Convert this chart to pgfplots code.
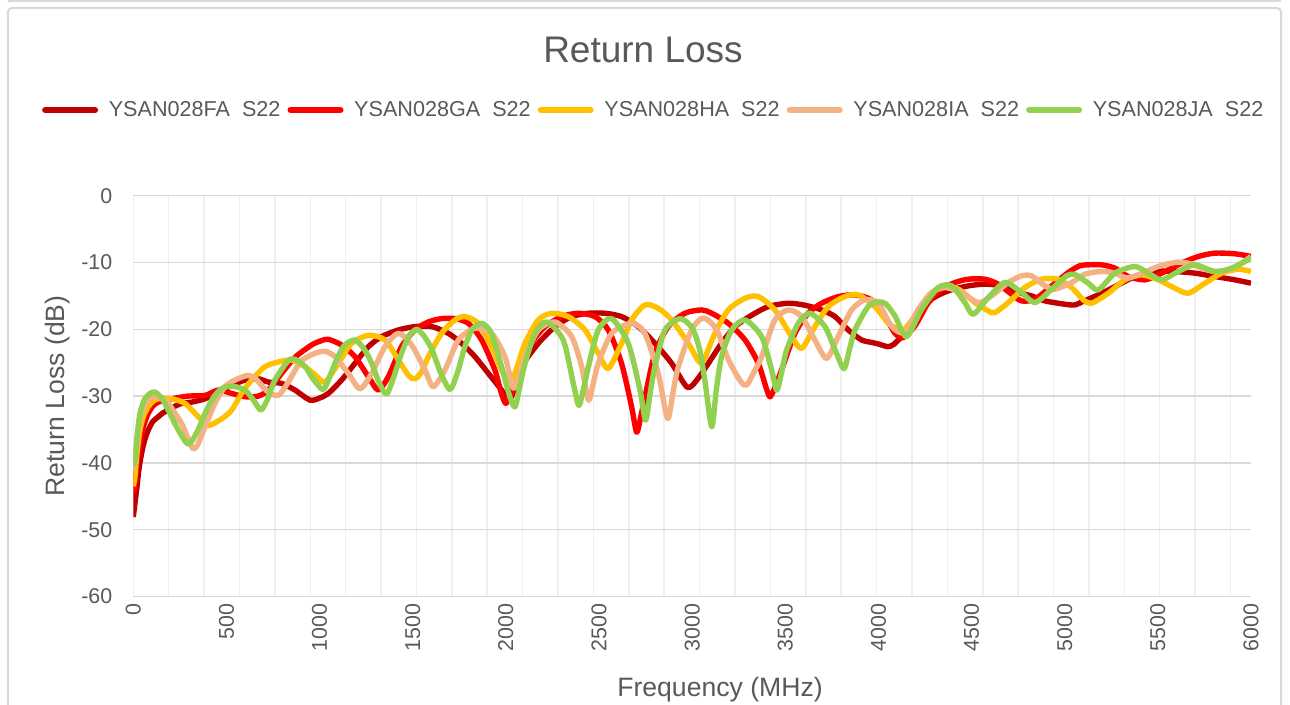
\documentclass[border=0pt]{standalone}
\usepackage{pgfplots}
\pgfplotsset{compat=1.18}
\usepackage{fontspec}
\setmainfont{Liberation Sans}

\definecolor{txt}{HTML}{595959}
\definecolor{gridmaj}{HTML}{D9D9D9}
\definecolor{gridmin}{HTML}{EFEFEF}
\definecolor{frame}{HTML}{D9D9D9}
\definecolor{cFA}{HTML}{C00000}
\definecolor{cGA}{HTML}{FF0000}
\definecolor{cHA}{HTML}{FFC000}
\definecolor{cIA}{HTML}{F4B183}
\definecolor{cJA}{HTML}{92D050}

\begin{document}
\begin{tikzpicture}
\path[use as bounding box] (-66.65pt,-54.25pt) rectangle (578.35pt,298.25pt);
% chart frame (cut at the bottom) and the edge of the chart above
\draw[frame, line width=1pt, rounded corners=2pt]
  (-62.65pt,-60pt) -- (-62.65pt,294.25pt) -- (573.85pt,294.25pt) -- (573.85pt,-60pt);
\draw[frame, line width=1pt] (-62.65pt,297.6pt) -- (573.85pt,297.6pt);

\begin{axis}[
  at={(0pt,0pt)}, anchor=south west,
  scale only axis, width=558.85pt, height=200.4pt,
  xmin=0, xmax=6000, ymin=-60, ymax=0,
  xtick={0,500,...,6000}, ytick={-60,-50,...,0},
  minor xtick={0,190,...,6000},
  ymajorgrids=true, xminorgrids=true,
  major grid style={draw=gridmaj, line width=0.75pt},
  minor grid style={draw=gridmin, line width=0.75pt},
  axis line style={draw=none},
  major tick length=0pt, minor tick length=0pt,
  tick label style={font=\fontsize{10.7}{12}\selectfont, text=txt},
  /pgf/number format/assume math mode=true,
  /pgf/number format/1000 sep={},
  xticklabel style={rotate=90, anchor=east},
  yticklabel style={xshift=-7pt},
  every axis plot/.append style={line width=2.7pt, line join=round, smooth, tension=0.45},
  legend columns=5,
  legend style={at={(0.4665,1.2138)}, anchor=center, draw=none, fill=none,
    font=\fontsize{10.8}{12}\selectfont, text=txt,
    /tikz/every even column/.append style={column sep=1.5pt}},
  legend image code/.code={\draw[line width=3pt, line cap=round] (1.5pt,0pt) -- (26.5pt,0pt);
    \path (30pt,0pt);},
]
% YSAN028FA S22
\addplot[cFA] coordinates {
(0,-48.1) (9,-46) (18,-44) (30,-41) (45,-38.5) (62,-36.5) (80,-35.1) (105,-33.8)
(134,-33.1) (160,-32.5) (188,-32.1) (225,-31.5) (259,-31.1) (313,-30.9) (385,-30.4)
(456,-29.4) (528,-28.4) (600,-27.6) (671,-27.4) (725,-27.9) (796,-28.1) (868,-29.1)
(948,-30.6) (1000,-30.3) (1047,-29.6) (1118,-27.6) (1190,-25.1) (1262,-22.6)
(1333,-21.1) (1423,-20.1) (1512,-19.6) (1602,-19.6) (1691,-20.6) (1763,-22.1)
(1834,-24.1) (1906,-26.6) (1977,-29.1) (2010,-30.5) (2035,-29.8) (2085,-25.6)
(2174,-22.1) (2264,-19.6) (2353,-18.1) (2443,-17.6) (2532,-17.6) (2621,-18.1)
(2711,-19.6) (2800,-22.1) (2890,-25.1) (2975,-28.7) (3033,-27.3) (3087,-25.1)
(3158,-22.1) (3230,-19.6) (3319,-17.9) (3409,-16.6) (3516,-16.1) (3606,-16.4)
(3695,-17.1) (3767,-18.1) (3838,-20.1) (3910,-21.6) (3970,-22) (4000,-22.2)
(4050,-22.6) (4080,-22.3) (4110,-21.5) (4142,-20.75) (4214,-18) (4285,-15.5)
(4375,-14.25) (4482,-13.5) (4572,-13.25) (4661,-13.5) (4750,-14.5) (4822,-15)
(4894,-15.75) (5001,-16.25) (5055,-16.35) (5100,-15.8) (5180,-14.85) (5270,-13.6)
(5377,-12.1) (5484,-11.35) (5592,-11.35) (5699,-11.6) (5806,-12.1) (5914,-12.6)
(6000,-13.1)
};
\addlegendentry{YSAN028FA\ \ S22}
% YSAN028GA S22
\addplot[cGA] coordinates {
(0,-44.5) (9,-43) (20,-40) (36,-37.1) (55,-34.5) (80,-32.6) (105,-31.5) (134,-30.9)
(206,-30.4) (295,-30) (385,-29.9) (456,-29.1) (528,-29.6) (600,-30.1) (671,-30)
(725,-29.1) (796,-26.6) (868,-24.2) (957,-22.35) (1010,-21.7) (1047,-21.5)
(1118,-22.35) (1190,-24.1) (1262,-27.1) (1315,-29.1) (1369,-27.1) (1440,-22.6)
(1512,-20.1) (1584,-18.9) (1655,-18.4) (1727,-18.4) (1798,-19.1) (1870,-21.6)
(1941,-26.1) (1975,-29.5) (2000,-31.1) (2030,-29.5) (2067,-26.6) (2138,-22.1)
(2210,-19.6) (2300,-18.1) (2389,-17.6) (2478,-18.1) (2550,-20.1) (2621,-25.1)
(2675,-31.6) (2702,-35.4) (2725,-33) (2747,-30.1) (2800,-23.6) (2872,-19.6)
(2961,-17.6) (3051,-17.1) (3105,-17.6) (3194,-19.1) (3284,-21.6) (3355,-25.1)
(3400,-29) (3418,-30.1) (3440,-29) (3480,-26.1) (3552,-20.6) (3623,-17.6)
(3695,-16.1) (3785,-15.1) (3874,-14.85) (3963,-15.6) (4035,-18.1) (4089,-20.6)
(4133,-21.25) (4196,-19.5) (4268,-16) (4339,-14) (4411,-13) (4482,-12.5)
(4572,-12.5) (4643,-13.25) (4715,-14.75) (4768,-15.75) (4840,-15.5) (4930,-13.5)
(5019,-11.5) (5080,-10.5) (5127,-10.35) (5198,-10.35) (5270,-10.85) (5341,-12.1)
(5431,-12.6) (5520,-11.6) (5627,-10.1) (5717,-9.1) (5806,-8.6) (5914,-8.7)
(6000,-9.1)
};
\addlegendentry{YSAN028GA\ \ S22}
% YSAN028HA S22
\addplot[cHA] coordinates {
(0,-43.5) (9,-42) (20,-38.5) (36,-35.1) (55,-33) (80,-31.6) (105,-30.8) (134,-30.4)
(206,-30.4) (277,-31.1) (349,-33.1) (402,-34.4) (474,-33.4) (528,-32.1) (581,-29.6)
(635,-27.6) (707,-25.6) (778,-24.9) (850,-24.6) (921,-25.6) (975,-26.8) (1029,-27.9)
(1101,-25.1) (1172,-22.1) (1262,-20.9) (1351,-21.6) (1423,-24.6) (1480,-27)
(1512,-27.4) (1545,-26.5) (1584,-24.1) (1655,-20.6) (1727,-18.6) (1780,-18.1)
(1852,-19.1) (1923,-22.6) (1975,-26) (2020,-27.8) (2050,-26.5) (2103,-22.1)
(2174,-18.6) (2246,-17.6) (2335,-18.1) (2425,-20.1) (2496,-23.6) (2550,-25.85)
(2621,-22.1) (2675,-18.6) (2747,-16.35) (2818,-16.85) (2890,-18.6) (2979,-22.1)
(3033,-24.7) (3060,-24.8) (3122,-20.6) (3194,-17.1) (3284,-15.35) (3355,-15.1)
(3444,-17.1) (3534,-21.1) (3588,-22.85) (3659,-19.6) (3731,-16.6) (3820,-15.1)
(3892,-14.85) (3981,-16.6) (4053,-19.1) (4107,-20) (4133,-20.25) (4196,-18)
(4268,-15) (4339,-13.75) (4429,-14) (4518,-16) (4590,-17.25) (4625,-17.5)
(4697,-16) (4786,-13.75) (4876,-12.5) (4965,-12.5) (5037,-13.75) (5100,-15.6)
(5144,-16.1) (5234,-14.6) (5323,-12.6) (5413,-11.85) (5502,-12.6) (5592,-13.85)
(5663,-14.6) (5753,-13.1) (5842,-11.6) (5932,-11) (6000,-11.35)
};
\addlegendentry{YSAN028HA\ \ S22}
% YSAN028IA S22
\addplot[cIA] coordinates {
(0,-41) (9,-40) (20,-37) (36,-33.6) (55,-31.8) (80,-30.6) (116,-30) (150,-30.3)
(188,-31.1) (259,-34.1) (300,-36.8) (322,-37.9) (345,-37.3) (385,-34.6) (438,-31.1)
(492,-28.6) (546,-27.6) (617,-26.9) (660,-27.5) (720,-29.3) (778,-29.9) (830,-28)
(900,-24.8) (975,-23.6) (1030,-23.3) (1083,-24.1) (1154,-26.6) (1217,-28.9)
(1280,-26.6) (1351,-22.6) (1423,-20.6) (1494,-22.35) (1566,-26.1) (1610,-28.6)
(1673,-26.1) (1745,-21.6) (1834,-19.85) (1923,-20.6) (1995,-24.1) (2040,-28.8)
(2070,-27) (2103,-24.1) (2174,-20.1) (2264,-18.9) (2353,-21.1) (2407,-25.6)
(2443,-30.6) (2470,-28) (2496,-25.1) (2568,-20.6) (2675,-19.1) (2746,-20.6)
(2818,-26.6) (2868,-33.35) (2900,-29) (2926,-25.6) (2997,-20.1) (3060,-18.3)
(3130,-20) (3194,-24.5) (3260,-27.8) (3293,-28.35) (3330,-26.5) (3373,-24.1)
(3444,-18.6) (3516,-17.1) (3588,-18.1) (3659,-21.6) (3722,-24.35) (3784,-21.1)
(3856,-17.1) (3927,-15.6) (4000,-16.1) (4071,-19.6) (4142,-20.5) (4214,-17)
(4285,-14.5) (4357,-13.75) (4446,-14.5) (4536,-16) (4607,-15) (4697,-13)
(4768,-12) (4822,-12) (4894,-13.5) (4947,-14) (5037,-13) (5108,-11.75)
(5198,-11.35) (5270,-11.6) (5330,-12.3) (5400,-11.8) (5502,-10.6) (5592,-10)
(5663,-10.1) (5734,-10.85) (5806,-11.35) (5878,-11.1) (5950,-10.1) (6000,-9.1)
};
\addlegendentry{YSAN028IA\ \ S22}
% YSAN028JA S22
\addplot[cJA] coordinates {
(0,-40) (9,-39.9) (20,-36) (36,-32.6) (60,-30.5) (90,-29.6) (116,-29.4) (150,-30.2)
(188,-32.1) (240,-35) (295,-37.2) (340,-35.5) (385,-32.6) (430,-30.2) (474,-28.9)
(528,-28.5) (600,-29.1) (650,-30.8) (685,-32.1) (720,-30.5) (760,-27.6) (832,-24.7)
(868,-24.5) (920,-25.5) (957,-27.1) (990,-28.3) (1025,-28.9) (1083,-25.1)
(1130,-22.5) (1190,-21.6) (1240,-23) (1280,-25.1) (1320,-28) (1360,-29.7)
(1400,-27) (1440,-23.6) (1480,-21) (1521,-20) (1560,-21) (1601,-22.9) (1650,-26.5)
(1700,-29) (1740,-26.5) (1780,-22.6) (1820,-20) (1870,-19.1) (1920,-20.5)
(1977,-25.6) (2020,-30) (2049,-31.6) (2075,-28.5) (2103,-25.1) (2156,-20.6)
(2219,-18.9) (2308,-21.6) (2362,-28.1) (2392,-31.4) (2420,-28.5) (2443,-25.6)
(2496,-20.1) (2568,-18.4) (2657,-22.1) (2720,-29.1) (2750,-33.6) (2775,-29.5)
(2800,-25.6) (2854,-20.1) (2935,-18.4) (3000,-19.8) (3040,-23) (3070,-28)
(3105,-34.6) (3130,-29) (3158,-24.1) (3212,-20.1) (3284,-18.6) (3373,-21.1)
(3427,-26.1) (3454,-29.1) (3480,-26.5) (3507,-23.1) (3570,-19.1) (3632,-17.6)
(3713,-19.6) (3775,-23.6) (3815,-25.9) (3845,-23) (3874,-20.1) (3945,-16.6)
(4000,-15.9) (4040,-16.2) (4089,-18) (4151,-21.1) (4232,-17) (4321,-13.75)
(4393,-13.5) (4464,-16) (4509,-17.75) (4590,-15.25) (4679,-13) (4768,-14.5)
(4840,-16) (4930,-14) (5010,-12) (5055,-11.8) (5127,-13.1) (5180,-14.1)
(5270,-11.6) (5377,-10.6) (5449,-11.6) (5520,-12.6) (5610,-11.35) (5699,-10.35)
(5806,-11.35) (5896,-10.85) (6000,-9.35)
};
\addlegendentry{YSAN028JA\ \ S22}
\end{axis}

\node[text=txt, font=\fontsize{18.5}{22}\selectfont] at (254.85pt,273.25pt) {Return Loss};
\node[text=txt, rotate=90, font=\fontsize{13.3}{16}\selectfont] at (-37.65pt,100.25pt) {Return Loss (dB)};
\node[text=txt, font=\fontsize{13.3}{16}\selectfont] at (293.35pt,-46.75pt) {Frequency (MHz)};
\end{tikzpicture}
\end{document}
